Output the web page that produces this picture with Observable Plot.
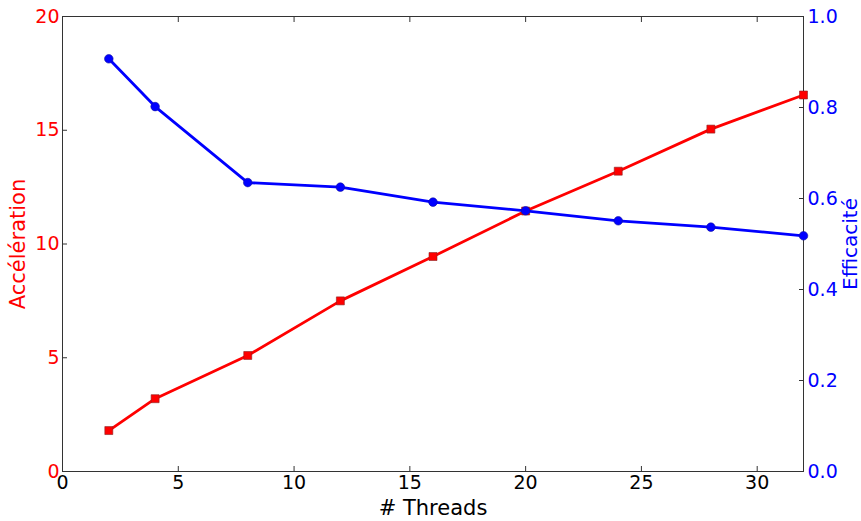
<!DOCTYPE html>
<html>
<head>
<meta charset="utf-8">
<script src="https://cdn.jsdelivr.net/npm/d3@7"></script>
<script src="https://cdn.jsdelivr.net/npm/@observablehq/plot@0.6"></script>
<style>
  html, body { margin: 0; padding: 0; background: #fff; }
  svg { font-family: "DejaVu Sans", sans-serif; }
</style>
</head>
<body>
<div id="chart"></div>
<script>
const threads = [2, 4, 8, 12, 16, 20, 24, 28, 32];
const acceleration = [1.8, 3.2, 5.1, 7.5, 9.45, 11.45, 13.2, 15.05, 16.55];
const efficiency = [0.907, 0.802, 0.635, 0.625, 0.592, 0.573, 0.551, 0.537, 0.518];
const xTicks = [0, 5, 10, 15, 20, 25, 30];
const accTicks = [0, 5, 10, 15, 20];
const effTicks = [0, 0.2, 0.4, 0.6, 0.8, 1.0];

const ACC_MAX = 20;
const EFF_MAX = 1.0;
const k = ACC_MAX / EFF_MAX;

const accData = threads.map((t, i) => ({t, v: acceleration[i]}));
const effData = threads.map((t, i) => ({t, v: efficiency[i] * k}));

const RED = "#ff0000", BLUE = "#0000ff";

const chart = Plot.plot({
  width: 861,
  height: 521,
  marginLeft: 62,
  marginRight: 58,
  marginTop: 16,
  marginBottom: 50,
  style: {fontFamily: "DejaVu Sans, sans-serif", fontSize: "19px", background: "#fff"},
  x: {domain: [0, 32]},
  y: {domain: [0, ACC_MAX]},
  marks: [
    Plot.frame({stroke: "#333", strokeWidth: 1}),
    Plot.axisX({ticks: xTicks, tickSize: -5, tickPadding: 9, label: null, color: "#000", stroke: "#333"}),
    Plot.axisX({anchor: "top", ticks: xTicks, tickSize: -5, tickFormat: () => "", label: null, stroke: "#333"}),
    Plot.axisY({ticks: accTicks, tickSize: -5, tickPadding: 8, label: null, color: RED, stroke: "#333"}),
    Plot.axisY({anchor: "right", ticks: effTicks.map(d => d * k), tickSize: -5, tickPadding: 9,
      tickFormat: d => (d / k).toFixed(1), label: null, color: BLUE, stroke: "#333"}),
    Plot.line(accData, {x: "t", y: "v", stroke: RED, strokeWidth: 2.8}),
    Plot.dot(accData, {x: "t", y: "v", symbol: "square", r: 4.5, fill: RED, stroke: "#8a2020", strokeWidth: 0.6}),
    Plot.line(effData, {x: "t", y: "v", stroke: BLUE, strokeWidth: 2.8}),
    Plot.dot(effData, {x: "t", y: "v", symbol: "circle", r: 4.3, fill: BLUE, stroke: "#1010a0", strokeWidth: 0.6}),
    Plot.text(["# Threads"], {frameAnchor: "bottom", dy: 37, lineAnchor: "middle", textAnchor: "middle", fill: "#000", fontSize: 21}),
    Plot.text(["Accélération"], {frameAnchor: "left", dx: -44, rotate: -90, lineAnchor: "middle", textAnchor: "middle", fill: RED, fontSize: 21}),
    Plot.text(["Efficacité"], {frameAnchor: "right", dx: 47, rotate: -90, lineAnchor: "middle", textAnchor: "middle", fill: BLUE, fontSize: 20})
  ]
});
document.getElementById("chart").appendChild(chart);
</script>
</body>
</html>
